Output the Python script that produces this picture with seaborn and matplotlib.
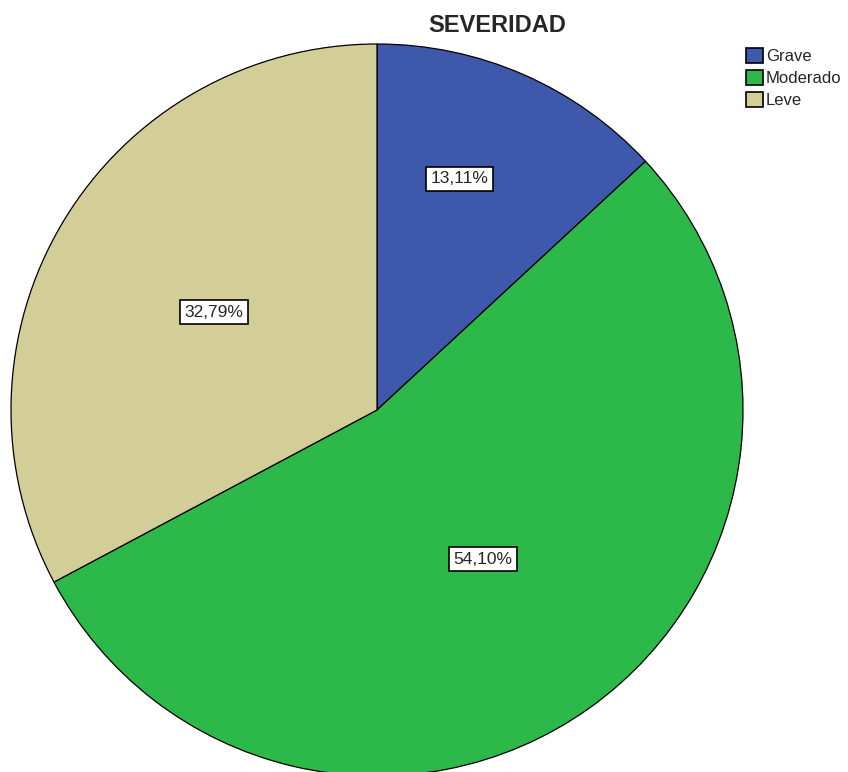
import matplotlib
matplotlib.use("Agg")
import matplotlib.pyplot as plt
import numpy as np
import seaborn as sns
from matplotlib.patches import Patch

# data
categories = ["Grave", "Moderado", "Leve"]
percentages = [13.11, 54.10, 32.79]
colors = ["#3E58AC", "#2DB84A", "#D3CE97"]

sns.set_style("white")
plt.rcParams['font.family'] = ['Liberation Sans', 'DejaVu Sans']

W, H = 848, 772
fig = plt.figure(figsize=(W / 100, H / 100), dpi=100)

cx, cy, r = 377, 410, 366
ax = fig.add_axes([(cx - r) / W, (H - cy - r) / H, 2 * r / W, 2 * r / H])

wedges, _ = ax.pie(percentages, colors=colors, startangle=90, counterclock=False,
                   radius=1, wedgeprops=dict(edgecolor="black", linewidth=0.9))
ax.set_xlim(-1, 1)
ax.set_ylim(-1, 1)
ax.set_aspect("equal")
ax.axis("off")

# percentage labels in boxes (distance from centre, angle nudge in degrees)
label_dist = [0.67, 0.5, 0.52]
label_nudge = [4, 0, 0]
for w, p, d, n in zip(wedges, percentages, label_dist, label_nudge):
    ang = np.deg2rad((w.theta1 + w.theta2) / 2 + n)
    ax.text(d * np.cos(ang), d * np.sin(ang), f"{p:.2f}%".replace(".", ","),
            ha="center", va="center", fontsize=12.5,
            bbox=dict(boxstyle="square,pad=0.25", facecolor="white",
                      edgecolor="black", linewidth=1.2))

fig.text(497 / W, 1 - 25 / H, "SEVERIDAD", ha="center", va="center",
         fontsize=17, fontweight="bold")

handles = [Patch(facecolor=c, edgecolor="black", linewidth=1.2) for c in colors]
fig.legend(handles, categories, loc="upper left", bbox_to_anchor=(746 / W, 1 - 48 / H),
           frameon=False, fontsize=12, handlelength=1.0, handleheight=1.0,
           handletextpad=0.2, labelspacing=0.35, borderpad=0, borderaxespad=0)

fig.savefig("out.png", dpi=100)
